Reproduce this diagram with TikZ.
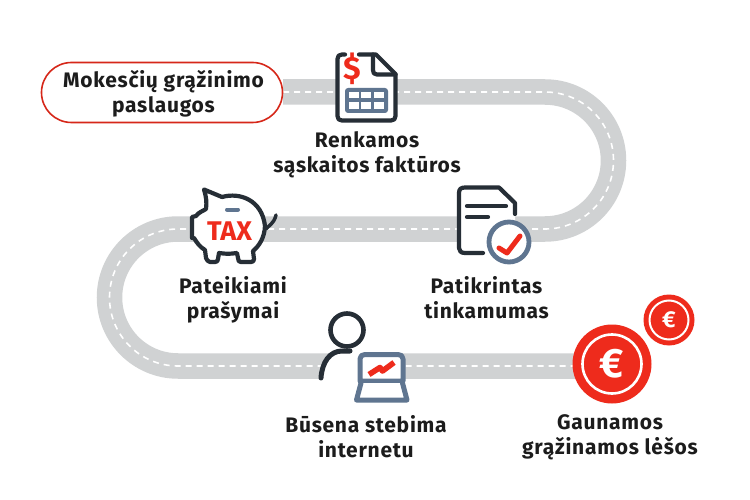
\documentclass[tikz,border=0pt]{standalone}
\usepackage{fontspec}
\setmainfont{Fira Sans}[LetterSpace=3.5]
\newfontfamily\plainbold{Fira Sans}
\definecolor{ink}{HTML}{262E36}
\definecolor{textink}{HTML}{1C1C1C}
\definecolor{slate}{HTML}{5F7590}
\definecolor{hot}{HTML}{EE2B1C}
\definecolor{road}{HTML}{D0D2D3}
\tikzset{
  label text/.style={font=\bfseries\fontsize{21}{25}\selectfont,align=center,text=textink,inner sep=0pt},
  inkline/.style={draw=ink,line width=4.2pt,line cap=round,line join=round},
  slateline/.style={draw=slate,line width=4pt,line cap=round,line join=round},
  hotline/.style={draw=hot,line width=5pt,line cap=round,line join=round},
  coin/.style={circle,fill=hot,draw=none,inner sep=0pt},
}
\begin{document}
\begin{tikzpicture}[x=1pt,y=-1pt]
\useasboundingbox[fill=white] (0,0) rectangle (750,500);
% road
\draw[road,line width=25.5pt] (283,92) -- (545,92) arc[start angle=-90,end angle=90,radius=68.5] -- (178,229) arc[start angle=270,end angle=90,radius=68.5] -- (590,366);
\draw[white,line width=1.6pt,dash pattern=on 6pt off 5pt] (283,92) -- (545,92) arc[start angle=-90,end angle=90,radius=68.5] -- (178,229) arc[start angle=270,end angle=90,radius=68.5] -- (590,366);
% pill
\node[draw=hot!90!black,line width=1.6pt,fill=white,rounded corners=30pt,minimum width=241pt,minimum height=60pt,inner sep=0pt] (pill) at (162,92.5) {};
\node[label text] (pilltext) at (163.5,94) {Mokesčių grąžinimo\\paslaugos};
% invoice icon
\fill[white] (337,54) rectangle (396,121);
\draw[inkline] (345,54.5) -- (342,54.5) .. controls (339,54.5) and (337.5,56) .. (337.5,59) -- (337.5,116) .. controls (337.5,119) and (339,120.5) .. (342,120.5) -- (391,120.5) .. controls (394,120.5) and (395.5,119) .. (395.5,116) -- (395.5,74) -- (376,54.5) -- (359,54.5);
\draw[inkline] (373,54.5) -- (373,70) .. controls (373,73) and (374,74.5) .. (377,74.5) -- (395.5,74.5);
\node[font=\plainbold\bfseries\fontsize{32}{32}\selectfont,text=hot,inner sep=0pt] (dollar) at (352,69) {\$};
\fill[slate,rounded corners=3pt] (345,88) rectangle (388,113);
\foreach \cx in {348.5,361,374} \foreach \cy in {92,102.5} {\fill[white] (\cx,\cy) rectangle +(10,6.5);}
\node[label text] (t1) at (367,154.5) {Renkamos\\sąskaitos faktūros};
% piggy
\draw[inkline,fill=white] (204,189.5) -- (222,197) .. controls (240,192) and (262,200) .. (265,226) .. controls (264.5,238) and (259,246) .. (253,251) -- (254,259) .. controls (254,261) and (253,262) .. (251,262) -- (241,262) .. controls (239,262) and (238,261) .. (238,258) -- (237,253) .. controls (230,254) and (226,254) .. (219,253) -- (218,259) .. controls (218,261) and (217,262) .. (215,262) -- (210,262) .. controls (208,262) and (207,260) .. (206,258) -- (205,250) .. controls (200,247) and (197,243) .. (194,238) -- (192,238) -- (192,217) -- (196,216) .. controls (199,212) and (203,211) .. (206,209) .. controls (207,202) and (206,196) .. (204,189.5) -- cycle;
\draw[inkline,line width=3.5pt] (266,229) .. controls (268,226) and (274,224) .. (276,215);
\draw[slateline] (227,209.5) -- (238,209.5);
\node[font=\plainbold\bfseries\fontsize{27}{27}\selectfont,text=hot,inner sep=0pt] (tax) at (229.5,231) {TAX};
\node[label text] (t2) at (233,300) {Pateikiami\\prašymai};
% check document
\fill[white] (459,188) -- (500,188) -- (515,203) -- (515,230) -- (500,253) -- (459,253) -- cycle;
\draw[inkline] (483,253) -- (465,253) .. controls (461,253) and (459,251) .. (459,248) -- (459,193) .. controls (459,189) and (461,187.5) .. (465,187.5) -- (499,187.5) -- (515,203) -- (515,214);
\draw[inkline] (467,206) -- (506,206);
\draw[inkline] (467,217) -- (488,217);
\node[circle,draw=slate,line width=4.8pt,fill=white,minimum size=40pt,inner sep=0pt] (checkc) at (509,242) {};
\draw[hotline] (499,248) -- (507,253) -- (520,236);
\node[label text] (t3) at (486.5,298) {Patikrintas\\tinkamumas};
% person + laptop
\fill[white] (321,378.9) .. controls (322,362) and (332,352) .. (345,352) -- (362,352) -- (362,379) -- cycle;
\node[circle,draw=ink,line width=4.6pt,fill=white,minimum size=33pt,inner sep=0pt] (head) at (347,330) {};
\draw[inkline,line width=5pt] (350,351) -- (342,351) .. controls (330,351) and (322,362) .. (321,378);
\draw[slateline,fill=white,line width=5pt] (365,354.5) -- (398,354.5) .. controls (401,354.5) and (403,356) .. (403,359) -- (403,381) -- (360,381) -- (360,359) .. controls (360,356) and (362,354.5) .. (365,354.5) -- cycle;
\draw[slateline,fill=white,line width=5pt] (361,383) -- (356.5,400) -- (407,400) -- (402.5,383);
\draw[hot,line width=5.6pt,line join=round] (369,374.5) -- (380,367.5) -- (382.5,371) -- (394,362.5);
\node[label text] (t4) at (366,437) {Būsena stebima\\internetu};
% coins
\node[coin,minimum size=51pt] (coinsmall) at (669,320) {};
\node[circle,draw=white,line width=2pt,minimum size=39pt,inner sep=0pt,text=white,font=\plainbold\bfseries\fontsize{23}{23}\selectfont] (ringsmall) at (669,320) {€};
\node[coin,minimum size=79pt] (coinbig) at (612,364) {};
\node[circle,draw=white,line width=2.6pt,minimum size=59pt,inner sep=0pt,text=white,font=\plainbold\bfseries\fontsize{41}{41}\selectfont] (ringbig) at (612,364) {€};
\node[label text] (t5) at (610,437) {Gaunamos\\grąžinamos lėšos};
\end{tikzpicture}
\end{document}
